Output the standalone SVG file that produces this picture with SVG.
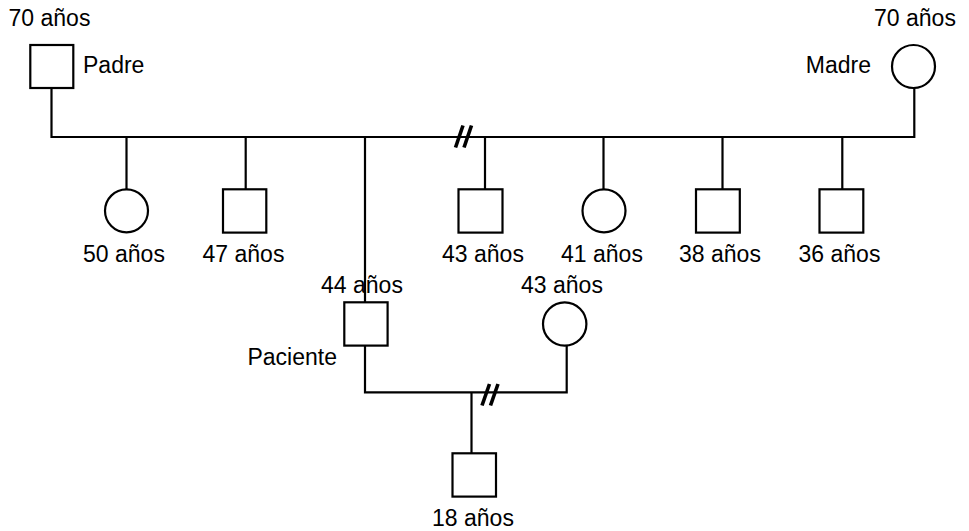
<svg xmlns="http://www.w3.org/2000/svg" width="969" height="531" viewBox="0 0 969 531">
<style>
.s{fill:#fff;stroke:#000;stroke-width:2.2}
.l{fill:none;stroke:#000;stroke-width:2.2}
.sl{stroke:#000;stroke-width:3.6;stroke-linecap:butt}
text{font-family:"Liberation Sans",Arial,sans-serif;font-size:23px;fill:#000}
.m{text-anchor:middle}
.e{text-anchor:end}
</style>
<rect width="969" height="531" fill="#fff"/>
<g id="connectors">
<path class="l" d="M51.5,88 V137 H914.3 V88"/>
<path class="l" d="M126.5,137 V189 M245.7,137 V189 M365,137 V302.3 M485,137 V189 M603.5,137 V189 M722.5,137 V189 M842.3,137 V189"/>
<line class="sl" x1="455.5" y1="147.5" x2="463" y2="125.5"/>
<line class="sl" x1="464" y1="147.5" x2="471.5" y2="125.5"/>
<path class="l" d="M365,345.7 V392.3 H566.7 V346"/>
<path class="l" d="M471.5,392.3 V453.3"/>
<line class="sl" x1="482" y1="405.5" x2="489.5" y2="384"/>
<line class="sl" x1="490.5" y1="405.5" x2="498" y2="384"/>
</g>
<g id="padre">
<rect class="s" x="30.3" y="45" width="43" height="43"/>
<text class="m" x="49.5" y="26">70 años</text>
<text x="83" y="73">Padre</text>
</g>
<g id="madre">
<circle class="s" cx="913.5" cy="66.5" r="21.5"/>
<text class="m" x="915" y="26">70 años</text>
<text class="e" x="871" y="73">Madre</text>
</g>
<g id="hija50">
<circle class="s" cx="126.5" cy="210.8" r="21.5"/>
<text class="m" x="124" y="262">50 años</text>
</g>
<g id="hijo47">
<rect class="s" x="223" y="189.3" width="43.3" height="43.3"/>
<text class="m" x="243.5" y="262">47 años</text>
</g>
<g id="paciente">
<rect class="s" x="344.3" y="302.3" width="43.3" height="43.3"/>
<text class="m" x="362" y="293.3">44 años</text>
<text class="e" x="337" y="364.5">Paciente</text>
</g>
<g id="hijo43">
<rect class="s" x="458.5" y="189.3" width="44" height="43.3"/>
<text class="m" x="483" y="262">43 años</text>
</g>
<g id="hija41">
<circle class="s" cx="604" cy="210.8" r="21.5"/>
<text class="m" x="602" y="262">41 años</text>
</g>
<g id="hijo38">
<rect class="s" x="696" y="189.3" width="43.8" height="43.3"/>
<text class="m" x="720" y="262">38 años</text>
</g>
<g id="hijo36">
<rect class="s" x="819.5" y="189.3" width="43.8" height="43.3"/>
<text class="m" x="839.5" y="262">36 años</text>
</g>
<g id="pareja">
<circle class="s" cx="564.7" cy="324" r="21.7"/>
<text class="m" x="562" y="293.3">43 años</text>
</g>
<g id="hijo18">
<rect class="s" x="452.5" y="453.3" width="43.5" height="43.3"/>
<text class="m" x="473" y="526">18 años</text>
</g>
</svg>
